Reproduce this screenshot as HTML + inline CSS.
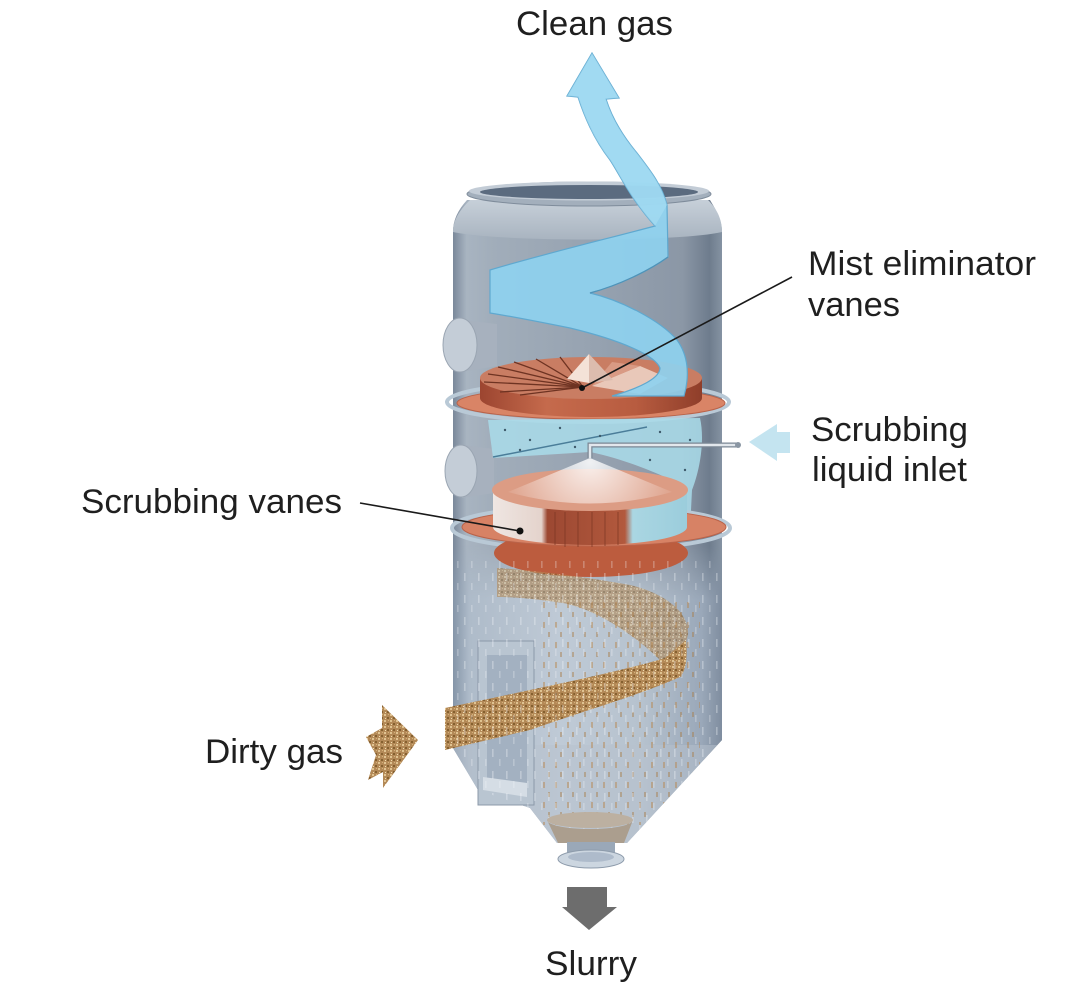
<!DOCTYPE html>
<html><head><meta charset="utf-8"><style>
html,body{margin:0;padding:0;background:#fff;}
svg{display:block;}
text{font-family:"Liberation Sans",Arial,sans-serif;fill:#1f1f1f;font-size:34px;}
</style></head><body>
<svg width="1072" height="992" viewBox="0 0 1072 992" xmlns="http://www.w3.org/2000/svg">
<defs>
<linearGradient id="gUp" x1="453" x2="723" y1="0" y2="0" gradientUnits="userSpaceOnUse">
 <stop offset="0" stop-color="#7a889a"/>
 <stop offset="0.05" stop-color="#a8b4c1"/>
 <stop offset="0.15" stop-color="#a1adba"/>
 <stop offset="0.5" stop-color="#97a3b1"/>
 <stop offset="0.85" stop-color="#8b97a6"/>
 <stop offset="0.95" stop-color="#6e7c8d"/>
 <stop offset="1" stop-color="#8795a4"/>
</linearGradient>
<linearGradient id="gLow" x1="453" x2="723" y1="0" y2="0" gradientUnits="userSpaceOnUse">
 <stop offset="0" stop-color="#8595a8"/>
 <stop offset="0.06" stop-color="#aebbc9"/>
 <stop offset="0.4" stop-color="#bfcad6"/>
 <stop offset="0.7" stop-color="#b6c2ce"/>
 <stop offset="0.92" stop-color="#9aa8b9"/>
 <stop offset="1" stop-color="#7e8c9e"/>
</linearGradient>
<linearGradient id="gLowV" x1="0" x2="0" y1="545" y2="600" gradientUnits="userSpaceOnUse">
 <stop offset="0" stop-color="#fff" stop-opacity="0"/>
 <stop offset="1" stop-color="#fff" stop-opacity="1"/>
</linearGradient>
<mask id="lowMask"><rect x="430" y="540" width="320" height="330" fill="url(#gLowV)"/></mask>
<linearGradient id="gSide1" x1="480" x2="702" y1="0" y2="0" gradientUnits="userSpaceOnUse">
 <stop offset="0" stop-color="#9c4530"/>
 <stop offset="0.3" stop-color="#c56a4c"/>
 <stop offset="0.7" stop-color="#b85c40"/>
 <stop offset="1" stop-color="#8f3e2a"/>
</linearGradient>
<linearGradient id="gSide2" x1="493" x2="687" y1="0" y2="0" gradientUnits="userSpaceOnUse">
 <stop offset="0" stop-color="#efe6e2"/>
 <stop offset="0.25" stop-color="#e4d3cc"/>
 <stop offset="0.28" stop-color="#9c4832"/>
 <stop offset="0.68" stop-color="#b2593d"/>
 <stop offset="0.72" stop-color="#aad6e2"/>
 <stop offset="1" stop-color="#9bcddc"/>
</linearGradient>
<linearGradient id="gShoulder" x1="0" x2="0" y1="198" y2="238" gradientUnits="userSpaceOnUse">
 <stop offset="0" stop-color="#c8d1da"/>
 <stop offset="1" stop-color="#aab5c1"/>
</linearGradient>
<radialGradient id="gSpray" cx="590" cy="462" r="90" gradientUnits="userSpaceOnUse">
 <stop offset="0" stop-color="#fff" stop-opacity="0.85"/>
 <stop offset="1" stop-color="#fff" stop-opacity="0.05"/>
</radialGradient>
<clipPath id="bodyClip"><path d="M467,200 C458,210 453,220 453,232 L453,748 L478,790 L530,808 L557,843 L627,843 L722,740 L722,232 C722,220 716,210 710,200 Z"/></clipPath>
<pattern id="rain" width="14" height="22" patternUnits="userSpaceOnUse">
 <rect x="2" y="1" width="1.6" height="8" fill="#f3f6fa" opacity="0.6"/>
 <rect x="9" y="11" width="1.6" height="7" fill="#f3f6fa" opacity="0.5"/>
</pattern>
<pattern id="brownRain" width="12" height="20" patternUnits="userSpaceOnUse">
 <rect x="3" y="2" width="2" height="6" fill="#b88a55" opacity="0.85"/>
 <rect x="8" y="12" width="2" height="5" fill="#a77a45" opacity="0.75"/>
</pattern>
<pattern id="grit" width="6" height="6" patternUnits="userSpaceOnUse">
 <rect width="6" height="6" fill="#b38957"/>
 <rect x="0" y="0" width="2" height="2" fill="#e0c391"/>
 <rect x="3" y="3" width="2" height="2" fill="#85602f"/>
 <rect x="4" y="0" width="1" height="1" fill="#d6b27a"/>
 <rect x="1" y="4" width="1" height="1" fill="#f0dcb0"/>
</pattern>
</defs>

<rect width="1072" height="992" fill="#fff"/>

<!-- body -->
<path d="M467,200 C458,210 453,220 453,232 L453,748 L478,790 L530,808 L557,843 L627,843 L722,740 L722,232 C722,220 716,210 710,200 Z" fill="url(#gUp)"/>
<g clip-path="url(#bodyClip)">
 <rect x="430" y="540" width="320" height="330" fill="url(#gLow)" mask="url(#lowMask)"/>
 <path d="M440,745 L722,745 L722,860 L440,860 Z" fill="#b7c2ce" opacity="0.5"/>
</g>
<!-- shoulder -->
<path d="M453,232 C453,218 462,208 470,200 L708,200 C716,208 722,218 722,232 C680,242 500,242 453,232 Z" fill="url(#gShoulder)"/>
<!-- rim -->
<ellipse cx="589" cy="194" rx="122" ry="12" fill="#a3afbc" stroke="#7f8c9b" stroke-width="1"/>
<ellipse cx="589" cy="191" rx="120" ry="9.5" fill="#c3ccd6"/>
<ellipse cx="589" cy="192" rx="109" ry="7" fill="#5b6b7f"/>

<!-- nozzles -->
<path d="M462,320 L497,324 L497,366 L462,372 Z" fill="#a7b1be"/>
<ellipse cx="460" cy="345" rx="17" ry="27" fill="#c4cdd7" stroke="#9aa5b2"/>
<path d="M462,445 L494,449 L494,493 L462,498 Z" fill="#a7b1be"/>
<ellipse cx="461" cy="471" rx="16" ry="26" fill="#c4cdd7" stroke="#9aa5b2"/>

<!-- ring 1 and mist eliminator -->
<ellipse cx="588" cy="402" rx="141" ry="20" fill="none" stroke="#b9c9d6" stroke-width="4"/>
<ellipse cx="591" cy="403" rx="134" ry="16" fill="#d98466" stroke="#b9634a"/>
<path d="M480,378 L480,398 A111,19 0 0 0 702,398 L702,378 Z" fill="url(#gSide1)"/>
<ellipse cx="591" cy="378" rx="111" ry="21" fill="#c97d63"/>
<path d="M592,386 L640,366 L668,378 L640,394 Z" fill="#e9c8b9"/>
<path d="M592,386 L612,362 L640,366 Z" fill="#d99a84"/>
<g stroke="#6e3322" stroke-width="1.3">
 <line x1="583" y1="387" x2="484" y2="382"/>
 <line x1="583" y1="387" x2="488" y2="374"/>
 <line x1="583" y1="387" x2="498" y2="367"/>
 <line x1="583" y1="387" x2="514" y2="362"/>
 <line x1="583" y1="387" x2="536" y2="359"/>
 <line x1="583" y1="387" x2="560" y2="357"/>
 <line x1="583" y1="387" x2="500" y2="392"/>
 <line x1="583" y1="387" x2="520" y2="395"/>
</g>
<path d="M589,354 L567,379 L589,383 Z" fill="#f4e2d7"/>
<path d="M589,354 L613,380 L589,383 Z" fill="#dcbcae"/>

<!-- blue ribbon -->
<path d="M592,53 L619,98 L606,99 C612,118 622,135 637,153 C650,170 662,185 667,205 L668,257 C650,270 620,285 590,293 C620,300 660,320 677,340 C688,355 690,375 684,396 L612,396 C640,388 660,378 660,368 C655,355 620,340 570,328 C540,322 510,316 490,313 L490,270 C540,255 610,238 655,226 C630,198 620,175 610,160 C596,142 586,122 578,97 L567,96 Z" fill="#8ed1ef" fill-opacity="0.92" stroke="#5fa8cf" stroke-width="1.2"/>
<path d="M668,257 C650,270 620,285 590,293" fill="none" stroke="#4f93b8" stroke-width="1.2"/>
<path d="M592,53 L619,98 L606,99 C612,118 622,135 637,153 C650,170 662,185 667,205 L655,226 C630,198 620,175 610,160 C596,142 586,122 578,97 L567,96 Z" fill="#a8ddf3" fill-opacity="0.6"/>

<!-- between flanges -->
<path d="M488,420 L700,418 C705,440 700,470 692,490 L690,530 L672,548 C676,520 680,495 676,482 C650,470 620,458 590,452 L493,458 Z" fill="#a9dcea" fill-opacity="0.85"/>
<line x1="493" y1="457" x2="647" y2="427" stroke="#4a7d99" stroke-width="1.5"/>
<g fill="#3e5a6b">
 <circle cx="505" cy="430" r="1.2"/><circle cx="530" cy="440" r="1.2"/><circle cx="560" cy="428" r="1.2"/>
 <circle cx="600" cy="436" r="1.2"/><circle cx="630" cy="446" r="1.2"/><circle cx="660" cy="432" r="1.2"/>
 <circle cx="685" cy="470" r="1.2"/><circle cx="678" cy="500" r="1.2"/><circle cx="520" cy="450" r="1.2"/>
 <circle cx="575" cy="447" r="1.2"/><circle cx="650" cy="460" r="1.2"/><circle cx="690" cy="440" r="1.2"/>
</g>
<!-- pipe -->
<path d="M590,458 L590,445 L737,445" fill="none" stroke="#7b8794" stroke-width="5"/>
<path d="M590,458 L590,445 L737,445" fill="none" stroke="#e2e7ec" stroke-width="2.5"/>
<circle cx="738" cy="445" r="3" fill="#8a96a3"/>

<!-- ring 2 and scrubbing disc -->
<ellipse cx="591" cy="528" rx="139" ry="22" fill="none" stroke="#b9c9d6" stroke-width="4"/>
<ellipse cx="591" cy="553" rx="97" ry="24" fill="#bc5c3e"/>
<ellipse cx="594" cy="527" rx="132" ry="19" fill="#d78265" stroke="#b9634a"/>
<path d="M493,490 L493,527 A97,18 0 0 0 687,527 L687,490 Z" fill="url(#gSide2)"/>
<ellipse cx="590" cy="490" rx="98" ry="21" fill="#dc9c84"/>
<path d="M590,458 L508,492 Q590,515 672,492 Z" fill="url(#gSpray)"/>
<g stroke="#7a3522" stroke-width="1" opacity="0.7">
 <line x1="555" y1="512" x2="555" y2="545"/><line x1="565" y1="512" x2="565" y2="547"/>
 <line x1="578" y1="512" x2="578" y2="547"/><line x1="592" y1="512" x2="592" y2="547"/>
 <line x1="605" y1="512" x2="605" y2="546"/><line x1="618" y1="512" x2="618" y2="545"/>
</g>

<!-- brown back band -->
<path d="M497,568 C530,570 580,576 630,585 C660,592 690,610 688,635 L683,652 L660,660 C640,640 600,610 563,603 C530,598 510,597 497,597 Z" fill="url(#grit)" opacity="0.6"/>

<!-- box -->
<rect x="478" y="641" width="56" height="164" fill="#b9c5d1" stroke="#8c99a9"/>
<rect x="487" y="655" width="40" height="130" fill="#a3b1c1"/>
<path d="M483,777 L527,783 L527,797 L483,790 Z" fill="#d5dde5"/>

<!-- brown front band -->
<path d="M445,708 C520,692 620,672 665,658 L686,640 C688,660 685,672 680,677 C640,695 580,712 530,730 L445,750 Z" fill="url(#grit)"/>

<!-- rain -->
<g clip-path="url(#bodyClip)">
 <rect x="540" y="600" width="160" height="225" fill="url(#brownRain)" opacity="0.6"/>
 <rect x="455" y="560" width="265" height="270" fill="url(#rain)" opacity="0.55"/>
</g>

<!-- cone bottom sediment -->
<path d="M547,820 A43,9 0 0 0 633,820 L624,843 L558,843 Z" fill="#ab9e8e"/>
<ellipse cx="590" cy="820" rx="43" ry="8" fill="#bcb0a1"/>
<!-- bottom nozzle -->
<rect x="567" y="842" width="48" height="14" fill="#9aa8b8"/>
<ellipse cx="591" cy="859" rx="33" ry="9" fill="#ccd6e0" stroke="#8d9bab"/>
<ellipse cx="591" cy="857" rx="23" ry="5" fill="#aebbcb"/>

<!-- arrows -->
<polygon points="567,887 607,887 607,907 617,907 589,930 562,907 567,907" fill="#6d6d6d"/>
<polygon points="382,705 418,740 383,788 383,772 368,780 376,755 366,737 382,728" fill="url(#grit)"/>
<polygon points="749,442 777,424 777,432 790,432 790,453 777,453 777,461" fill="#c4e4f0"/>

<!-- leaders -->
<line x1="792" y1="277" x2="582" y2="388" stroke="#1a1a1a" stroke-width="1.6"/>
<circle cx="582" cy="388" r="3" fill="#111"/>
<line x1="360" y1="503" x2="520" y2="531" stroke="#1a1a1a" stroke-width="1.6"/>
<circle cx="520" cy="531" r="3.5" fill="#111"/>

<!-- labels -->
<text x="516" y="35" textLength="157" lengthAdjust="spacingAndGlyphs">Clean gas</text>
<text x="808" y="275" textLength="228" lengthAdjust="spacingAndGlyphs">Mist eliminator</text>
<text x="808" y="316" textLength="92" lengthAdjust="spacingAndGlyphs">vanes</text>
<text x="811" y="441" textLength="157" lengthAdjust="spacingAndGlyphs">Scrubbing</text>
<text x="812" y="481" textLength="155" lengthAdjust="spacingAndGlyphs">liquid inlet</text>
<text x="81" y="513" textLength="261" lengthAdjust="spacingAndGlyphs">Scrubbing vanes</text>
<text x="205" y="763" textLength="138" lengthAdjust="spacingAndGlyphs">Dirty gas</text>
<text x="545" y="975" textLength="92" lengthAdjust="spacingAndGlyphs">Slurry</text>
</svg>
</body></html>
